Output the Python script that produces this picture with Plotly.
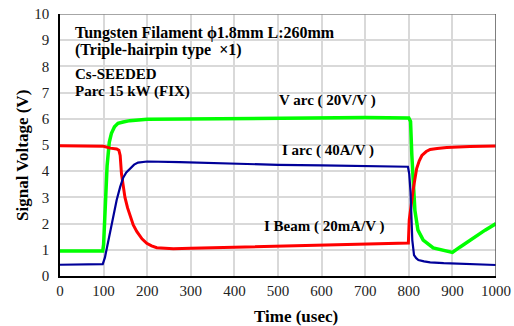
import plotly.graph_objects as go

# ---- data ----
t_varc = [0, 50, 98, 100, 103, 108, 113, 118, 125, 133, 145, 160, 200, 300, 400, 500, 600, 700, 800, 804,
          807, 810, 814, 821, 833, 856, 887, 900, 917, 935, 956, 975, 1000]
v_varc = [0.95, 0.95, 0.95, 1.2, 2.5, 4.2, 5.1, 5.45, 5.7, 5.83, 5.88, 5.93, 5.98, 6.0, 6.02, 6.04, 6.04, 6.05, 6.03, 5.9,
          4.6, 3.5, 2.5, 1.75, 1.37, 1.07, 0.93, 0.9, 1.1, 1.3, 1.56, 1.75, 2.0]

t_iarc = [0, 50, 98, 103, 108, 115, 122, 130, 138, 145, 152, 160, 170, 179, 200, 275, 400, 500, 600, 700, 798,
          801, 804, 808, 812, 817, 822, 835, 849, 880, 925, 1000]
v_iarc = [0.43, 0.43, 0.45, 0.7, 1.1, 1.64, 2.3, 2.9, 3.4, 3.75, 3.95, 4.1, 4.25, 4.33, 4.37, 4.35, 4.28, 4.24, 4.22, 4.2, 4.17,
          3.9, 3.2, 1.37, 0.8, 0.68, 0.61, 0.56, 0.52, 0.49, 0.46, 0.42]

t_beam = [0, 60, 100, 115, 130, 135, 138, 141, 145, 149, 155, 161, 168, 176, 188, 199, 210, 222, 240, 260, 300, 400, 500, 600, 700, 799,
          801, 805, 810, 814, 818, 824, 830, 840, 849, 865, 887, 940, 1000]
v_beam = [4.97, 4.97, 4.95, 4.88, 4.85, 4.8, 4.6, 3.9, 3.4, 3.0, 2.6, 2.27, 1.95, 1.7, 1.42, 1.25, 1.15, 1.08, 1.05, 1.04, 1.06, 1.1, 1.14, 1.18, 1.22, 1.26,
          2.14, 2.7, 3.28, 3.7, 4.1, 4.4, 4.6, 4.75, 4.83, 4.87, 4.9, 4.94, 4.96]

x_ticks = [0, 100, 200, 300, 400, 500, 600, 700, 800, 900, 1000]
y_ticks = [0, 1, 2, 3, 4, 5, 6, 7, 8, 9, 10]

FONT = "Liberation Serif"
L, R, T, B = 60, 18, 14, 50
W, H = 514, 326
PW = W - L - R
PH = H - T - B

fig = go.Figure()
fig.add_trace(go.Scatter(x=t_varc, y=v_varc, mode="lines", line=dict(color="#00ff00", width=3.5), name="V arc"))
fig.add_trace(go.Scatter(x=t_beam, y=v_beam, mode="lines", line=dict(color="#ff0000", width=3), name="I Beam"))
fig.add_trace(go.Scatter(x=t_iarc, y=v_iarc, mode="lines", line=dict(color="#000099", width=2.2), name="I arc"))

fig.update_layout(
    width=W, height=H,
    margin=dict(l=L, r=R, t=T, b=B, autoexpand=False),
    paper_bgcolor="white", plot_bgcolor="white",
    showlegend=False,
    font=dict(family=FONT, size=15, color="#222222"),
)
fig.update_xaxes(range=[0, 1000], tickvals=x_ticks, showgrid=True, gridcolor="#d9d9d9", gridwidth=2,
                 showline=True, linecolor="#000000", linewidth=1.5, zeroline=False, ticks="", automargin=False,
                 tickfont=dict(family=FONT, size=15, color="#222222"))
fig.update_yaxes(range=[0, 10], tickvals=y_ticks, showgrid=True, gridcolor="#d9d9d9", gridwidth=2,
                 showline=True, linecolor="#000000", linewidth=1.5, zeroline=False, ticks="", automargin=False,
                 ticklabelstandoff=6,
                 tickfont=dict(family=FONT, size=15, color="#222222"))

# top/right border in gray
fig.add_shape(type="line", xref="x", yref="y", x0=0, x1=1000, y0=10, y1=10, line=dict(color="#888888", width=1.5))
fig.add_shape(type="line", xref="x", yref="y", x0=1000, x1=1000, y0=0, y1=10, line=dict(color="#555555", width=1.5))

def px(xp):
    return (xp - L) / PW

def py(yp):
    return (H - B - yp) / PH

def ann(text, x, y, size, xanchor="left", **kw):
    fig.add_annotation(text=text, x=x, y=y, xref="paper", yref="paper", xanchor=xanchor, yanchor="middle",
                       showarrow=False, font=dict(family=FONT, size=size, color="#000000"), **kw)

ann("<b>Tungsten Filament \u03d51.8mm L:260mm</b>", px(73), py(33), 16)
ann("<b>(Triple-hairpin type  \u00d71)</b>", px(73), py(50), 16)
ann("<b>Cs-SEEDED</b>", px(73), py(74), 15)
ann("<b>Parc 15 kW (FIX)</b>", px(73), py(91), 15)

ann("<b>V arc ( 20V/V )</b>", px(327), py(100), 15, xanchor="center")
ann("<b>I arc ( 40A/V )</b>", px(328), py(150), 15, xanchor="center")
ann("<b>I Beam ( 20mA/V )</b>", px(324), py(226), 15, xanchor="center")

fig.add_annotation(text="<b>Time (usec)</b>", x=px(296), y=py(316), xref="paper", yref="paper",
                   xanchor="center", yanchor="middle", showarrow=False, font=dict(family=FONT, size=17, color="#000000"))
fig.add_annotation(text="<b>Signal Voltage (V)</b>", x=px(22), y=py(156), xref="paper", yref="paper",
                   xanchor="center", yanchor="middle", textangle=-90, showarrow=False,
                   font=dict(family=FONT, size=17, color="#000000"))

fig.write_html("out.html", config={"displayModeBar": False, "responsive": False},
               post_script="document.body.style.margin='0';document.body.style.overflow='hidden';")
